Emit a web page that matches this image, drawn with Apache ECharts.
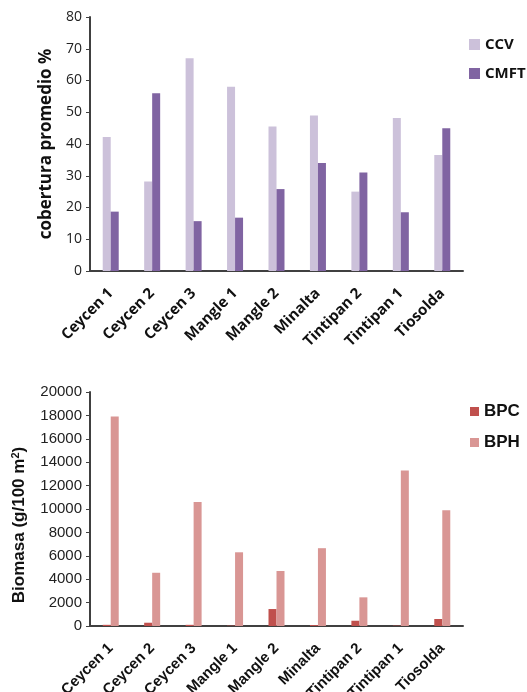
<!DOCTYPE html>
<html>
<head>
<meta charset="utf-8">
<script src="https://cdn.jsdelivr.net/npm/echarts@6/dist/echarts.min.js"></script>
<style>
  html, body { margin: 0; padding: 0; background: #fff; }
  #chart { width: 527px; height: 692px; }
</style>
</head>
<body>
<div id="chart"></div>
<script>
// sitios
var categories = ['Ceycen 1', 'Ceycen 2', 'Ceycen 3', 'Mangle 1', 'Mangle 2', 'Minalta', 'Tintipan 2', 'Tintipan 1', 'Tiosolda'];
// cobertura promedio %
var ccv = [42.2, 28.2, 67, 58, 45.5, 49, 25, 48.2, 36.5];
var cmft = [18.7, 56, 15.7, 16.8, 25.8, 34, 31, 18.5, 45];
// biomasa g/100 m2
var bpc = [100, 280, 100, 30, 1450, 80, 450, 30, 600];
var bph = [17900, 4550, 10600, 6300, 4700, 6650, 2450, 13300, 9900];

var axisColor = '#404040';
var font1 = '"Open Sans", sans-serif';
var font2 = '"Liberation Sans", Arial, sans-serif';

var myChart = echarts.init(document.getElementById('chart'));

function xAxisFor(gridIndex, font, margin) {
  return {
    type: 'category',
    gridIndex: gridIndex,
    data: categories,
    axisLine: { lineStyle: { color: axisColor, width: 2 } },
    axisTick: { show: false },
    axisLabel: {
      interval: 0,
      rotate: 45,
      margin: margin,
      fontFamily: font,
      fontWeight: 'bold',
      fontSize: 15,
      color: '#111'
    }
  };
}

var option = {
  animation: false,
  legend: [
    {
      data: ['CCV', 'CMFT'],
      orient: 'vertical',
      left: 464,
      top: 32,
      itemWidth: 11,
      itemHeight: 11,
      itemGap: 14,
      icon: 'rect',
      textStyle: { fontFamily: font1, fontWeight: 'bold', fontSize: 15, color: '#111' }
    },
    {
      data: ['BPC', 'BPH'],
      orient: 'vertical',
      left: 465,
      top: 398,
      itemWidth: 9,
      itemHeight: 9,
      itemGap: 14,
      icon: 'rect',
      textStyle: { fontFamily: font2, fontWeight: 'bold', fontSize: 17, color: '#111' }
    }
  ],
  grid: [
    { left: 90, top: 17, width: 373, height: 254, outerBoundsMode: 'none' },
    { left: 90, top: 392, width: 373, height: 234, outerBoundsMode: 'none' }
  ],
  xAxis: [xAxisFor(0, font1, 20), xAxisFor(1, font2, 20)],
  yAxis: [
    {
      type: 'value',
      gridIndex: 0,
      min: 0,
      max: 80,
      interval: 10,
      name: 'cobertura promedio %',
      nameLocation: 'middle',
      nameGap: 35,
      nameTextStyle: { fontFamily: font1, fontWeight: 'bold', fontSize: 17, color: '#111' },
      axisLine: { show: true, lineStyle: { color: axisColor, width: 2 } },
      axisTick: { show: true, length: 4, lineStyle: { color: axisColor } },
      splitLine: { show: false },
      axisLabel: { fontFamily: font1, fontSize: 14, color: '#222', margin: 8 }
    },
    {
      type: 'value',
      gridIndex: 1,
      min: 0,
      max: 20000,
      interval: 2000,
      name: 'Biomasa (g/100 m{sup|2})',
      nameLocation: 'middle',
      nameGap: 61,
      nameTextStyle: {
        fontFamily: font2, fontWeight: 'bold', fontSize: 17, color: '#111',
        padding: [0, 32, 0, 0],
        rich: {
          sup: { fontFamily: font2, fontWeight: 'bold', fontSize: 11, color: '#111', verticalAlign: 'top', padding: [0, 0, 8, 0] }
        }
      },
      axisLine: { show: true, lineStyle: { color: axisColor, width: 2 } },
      axisTick: { show: true, length: 4, lineStyle: { color: axisColor } },
      splitLine: { show: false },
      axisLabel: {
        fontFamily: font2, fontSize: 15, color: '#222', margin: 8,
        formatter: function (v) { return String(v); }
      }
    }
  ],
  series: [
    { name: 'CCV', type: 'bar', xAxisIndex: 0, yAxisIndex: 0, data: ccv, barWidth: 8, barGap: '0%', itemStyle: { color: '#ccc1da' } },
    { name: 'CMFT', type: 'bar', xAxisIndex: 0, yAxisIndex: 0, data: cmft, barWidth: 8, barGap: '0%', itemStyle: { color: '#8064a2' } },
    { name: 'BPC', type: 'bar', xAxisIndex: 1, yAxisIndex: 1, data: bpc, barWidth: 8, barGap: '0%', itemStyle: { color: '#c0504d' } },
    { name: 'BPH', type: 'bar', xAxisIndex: 1, yAxisIndex: 1, data: bph, barWidth: 8, barGap: '0%', itemStyle: { color: '#d99694' } }
  ]
};

myChart.setOption(option);
</script>
</body>
</html>
